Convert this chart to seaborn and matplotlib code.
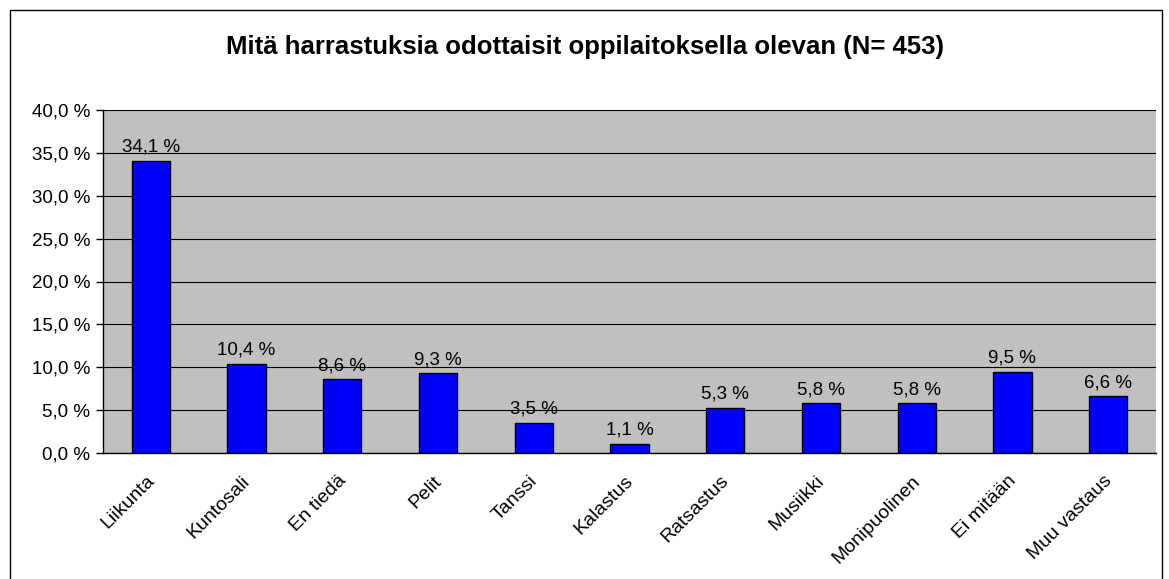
import numpy as np
import pandas as pd
import seaborn as sns
import matplotlib.pyplot as plt
import matplotlib.transforms as mtransforms
from matplotlib.patches import Rectangle

# data
harrastukset = ['Liikunta', 'Kuntosali', 'En tiedä', 'Pelit', 'Tanssi', 'Kalastus',
                'Ratsastus', 'Musiikki', 'Monipuolinen', 'Ei mitään', 'Muu vastaus']
osuudet = [34.1, 10.4, 8.6, 9.3, 3.5, 1.1, 5.3, 5.8, 5.8, 9.5, 6.6]
y_ticks = [0, 5, 10, 15, 20, 25, 30, 35, 40]

df = pd.DataFrame({'harrastus': harrastukset, 'osuus': osuudet})

sns.set_style('white')
plt.rcParams['font.family'] = ['Liberation Sans', 'DejaVu Sans']
plt.rcParams['text.color'] = 'black'
plt.rcParams['xtick.color'] = 'black'
plt.rcParams['ytick.color'] = 'black'

fs = 13.5

fig = plt.figure(figsize=(11.69, 5.79), dpi=100)
ax = fig.add_axes([103/1169, 1-453/579, (1156-103)/1169, (453-110)/579])
ax.set_facecolor('#C0C0C0')

sns.barplot(data=df, x='harrastus', y='osuus', color='#0000FF', width=0.4,
            edgecolor='black', linewidth=1, saturation=1, ax=ax, zorder=3)

# labels above bars
for i, v in enumerate(osuudet):
    ax.text(i, v + 0.6, f'{v:.1f} %'.replace('.', ','), ha='center', va='bottom',
            fontsize=fs, zorder=4)

ax.set_ylim(0, 40)
ax.set_xlim(-0.5, len(harrastukset) - 0.5)
ax.set_yticks(y_ticks)
ax.set_yticklabels([f'{t:.1f} %'.replace('.', ',') for t in y_ticks], fontsize=fs)
ax.yaxis.grid(True, color='black', linewidth=0.8, zorder=0)
ax.set_axisbelow(True)

ax.set_xticks(range(len(harrastukset)))
ax.set_xticklabels(harrastukset, rotation=45, ha='right', rotation_mode='anchor', fontsize=14)
ax.set_xticks(np.arange(-0.5, len(harrastukset), 1), minor=True)
ax.tick_params(axis='x', which='major', length=0, pad=14)
ax.tick_params(axis='x', which='minor', length=5, width=1, color='black', direction='out')
ax.tick_params(axis='y', length=5, width=1, color='black', direction='out', left=True, pad=4)

# shift the rotated labels a bit left, like in the original
offset = mtransforms.ScaledTranslation(-5/100, 0, fig.dpi_scale_trans)
for lbl in ax.get_xticklabels():
    lbl.set_transform(lbl.get_transform() + offset)

ax.set_xlabel('')
ax.set_ylabel('')
for s in ['top', 'right']:
    ax.spines[s].set_visible(False)
for s in ['left', 'bottom']:
    ax.spines[s].set_color('black')
    ax.spines[s].set_linewidth(1)

fig.text(0.5 + 0.0, 1 - 47/579, 'Mitä harrastuksia odottaisit oppilaitoksella olevan (N= 453)',
         ha='center', va='center', fontsize=18.5, fontweight='bold')

# outer chart border
fig.patches.append(Rectangle((10/1169, -0.05), (1162-10)/1169, 1.05 - 10/579,
                             transform=fig.transFigure, fill=False, edgecolor='black', linewidth=1))

fig.savefig('out.png', dpi=100)
